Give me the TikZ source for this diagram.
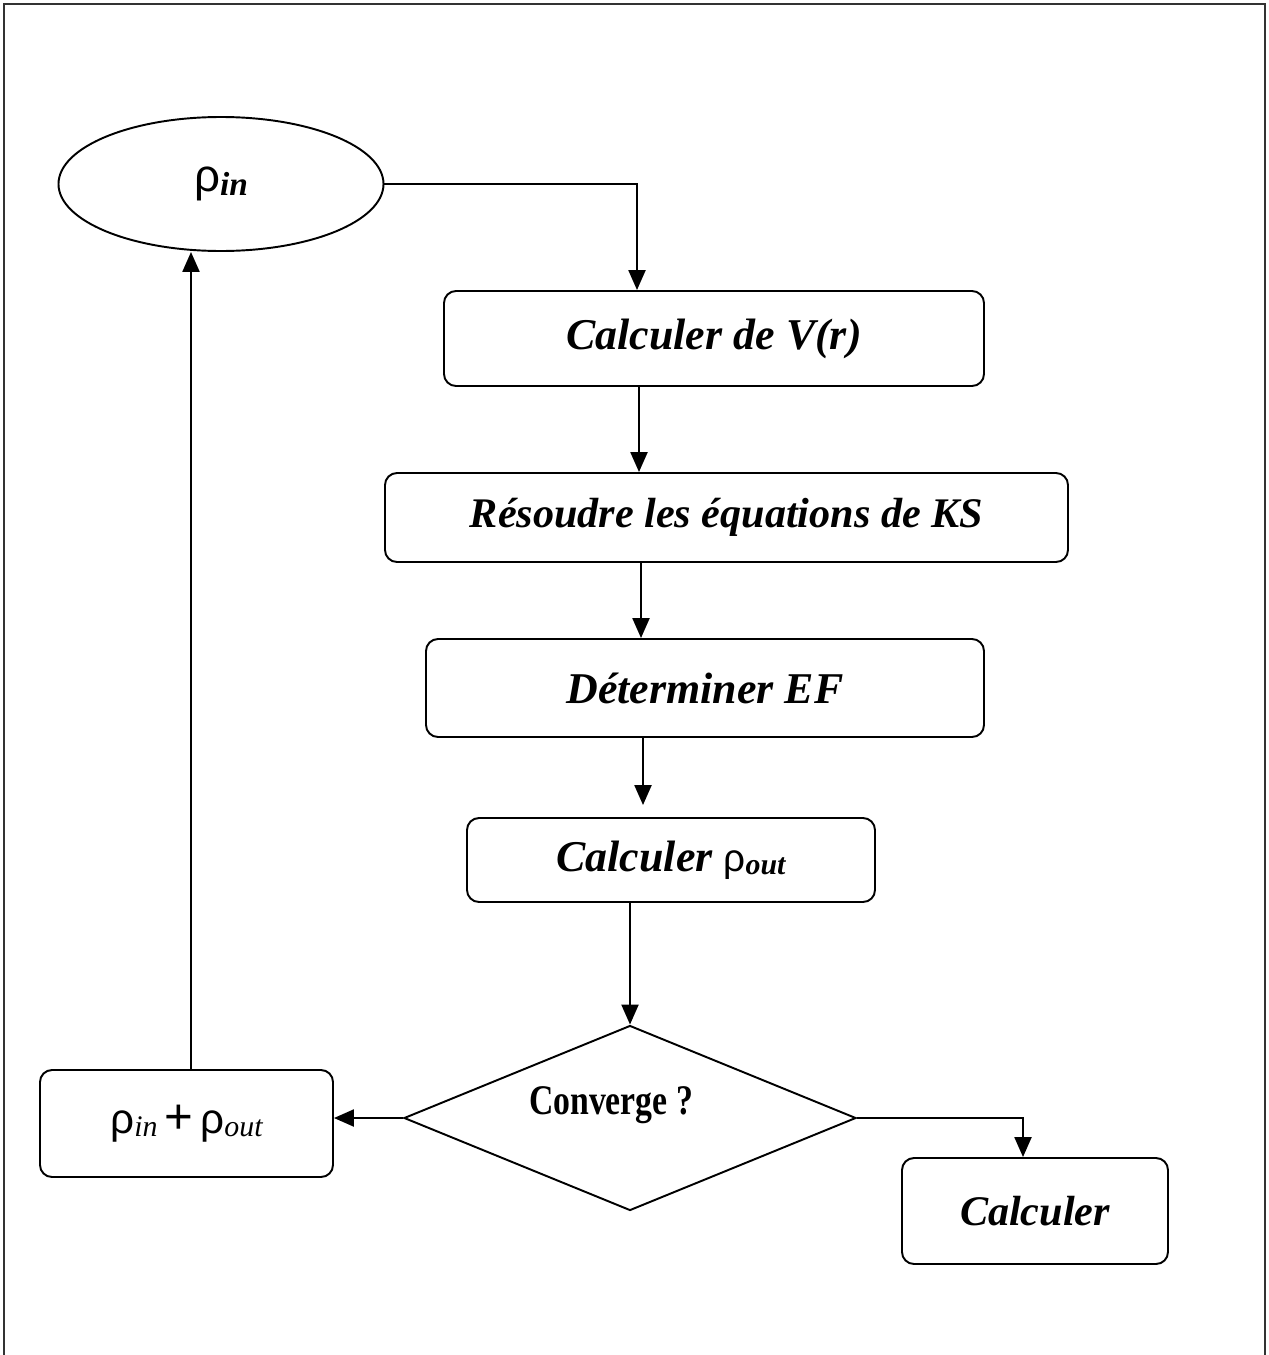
\documentclass[tikz,border=0pt]{standalone}
\usepackage{fontspec}
\setmainfont{Liberation Serif}
\newfontfamily\rhofont{Liberation Sans}
\newfontfamily\condfont[FakeStretch=0.8]{Liberation Serif}
\usepackage{tikz}
\usetikzlibrary{shapes.geometric, arrows.meta, positioning, calc}

\newcommand{\rh}{{\rhofont ρ}}
\newcommand{\sub}[2]{{\fontsize{#1}{#1}\selectfont\itshape\raisebox{-0.12em}{#2}}}

\begin{document}
\begin{tikzpicture}[
    box/.style={draw, rectangle, rounded corners=0.24cm, line width=1.1pt, align=center, inner sep=0pt},
    stepbox/.style={box, font=\fontsize{25}{30}\selectfont\bfseries\itshape},
    ellipsebox/.style={draw, ellipse, line width=1.1pt, inner sep=0pt, minimum width=6.5cm, minimum height=2.68cm},
    testbox/.style={draw, diamond, line width=1.1pt, inner sep=0pt, aspect=2.44, minimum width=9.04cm, minimum height=3.7cm},
    arrow/.style={line width=1.3pt, -{Triangle[length=4mm,width=3.4mm]}}
]
\useasboundingbox (0,0) rectangle (25.38,-27.1);
% cadre
\draw[line width=1.2pt, black!80] (0.08,-27.1) -- (0.08,-0.08) -- (25.3,-0.08) -- (25.3,-27.1);

\node (rhoin) [ellipsebox] at (4.42,-3.68) {\raisebox{-0.25cm}{\fontsize{26}{30}\selectfont\rh\sub{19}{\bfseries in}}};
\node (calcv) [stepbox, minimum width=10.8cm, minimum height=1.9cm] at (14.28,-6.77) {\raisebox{-0.1cm}{Calculer de V(r)}};
\node (ks) [stepbox, minimum width=13.66cm, minimum height=1.78cm, font=\fontsize{24}{28}\selectfont\bfseries\itshape] at (14.53,-10.35) {Résoudre les équations de KS};
\node (ef) [stepbox, minimum width=11.16cm, minimum height=1.96cm] at (14.1,-13.76) {Déterminer EF};
\node (rhoout) [stepbox, minimum width=8.16cm, minimum height=1.68cm] at (13.42,-17.2) {Calculer {\fontsize{22}{26}\selectfont\mdseries\upshape\rh\sub{17}{\bfseries out}}};
\node (conv) [testbox, label={[xshift=-0.38cm, yshift=0.26cm, font=\fontsize{24}{28}\selectfont\condfont\bfseries]center:Converge ?}] at (12.6,-22.36) {};
\node (mix) [box, minimum width=5.86cm, minimum height=2.14cm] at (3.73,-22.47) {\fontsize{24}{28}\selectfont\rh\sub{17}{in}\,{\fontsize{28}{30}\selectfont\upshape\rhofont +}\,\rh\sub{17}{out}};
\node (calcfin) [stepbox, minimum width=5.32cm, minimum height=2.12cm, font=\fontsize{24}{28}\selectfont\bfseries\itshape] at (20.7,-24.22) {Calculer};

\draw[arrow] (rhoin.east) -| ([xshift=-1.54cm]calcv.north);
\draw[arrow] ([xshift=-1.5cm]calcv.south) -- ([xshift=-1.5cm]calcv.south |- ks.north);
\draw[arrow] ([xshift=-1.71cm]ks.south) -- ([xshift=-1.71cm]ks.south |- ef.north);
\draw[arrow] ([xshift=-1.24cm]ef.south) -- ([xshift=-1.24cm,yshift=0.24cm]ef.south |- rhoout.north);
\draw[arrow] (conv.north |- rhoout.south) -- (conv.north);
\draw[arrow] (conv.west) -- (conv.west -| mix.east);
\draw[arrow] ([xshift=0.09cm]mix.north) -- ([xshift=0.09cm]mix.north |- rhoin.south);
\draw[arrow] (conv.east) -| ([xshift=-0.24cm]calcfin.north);
\end{tikzpicture}
\end{document}
